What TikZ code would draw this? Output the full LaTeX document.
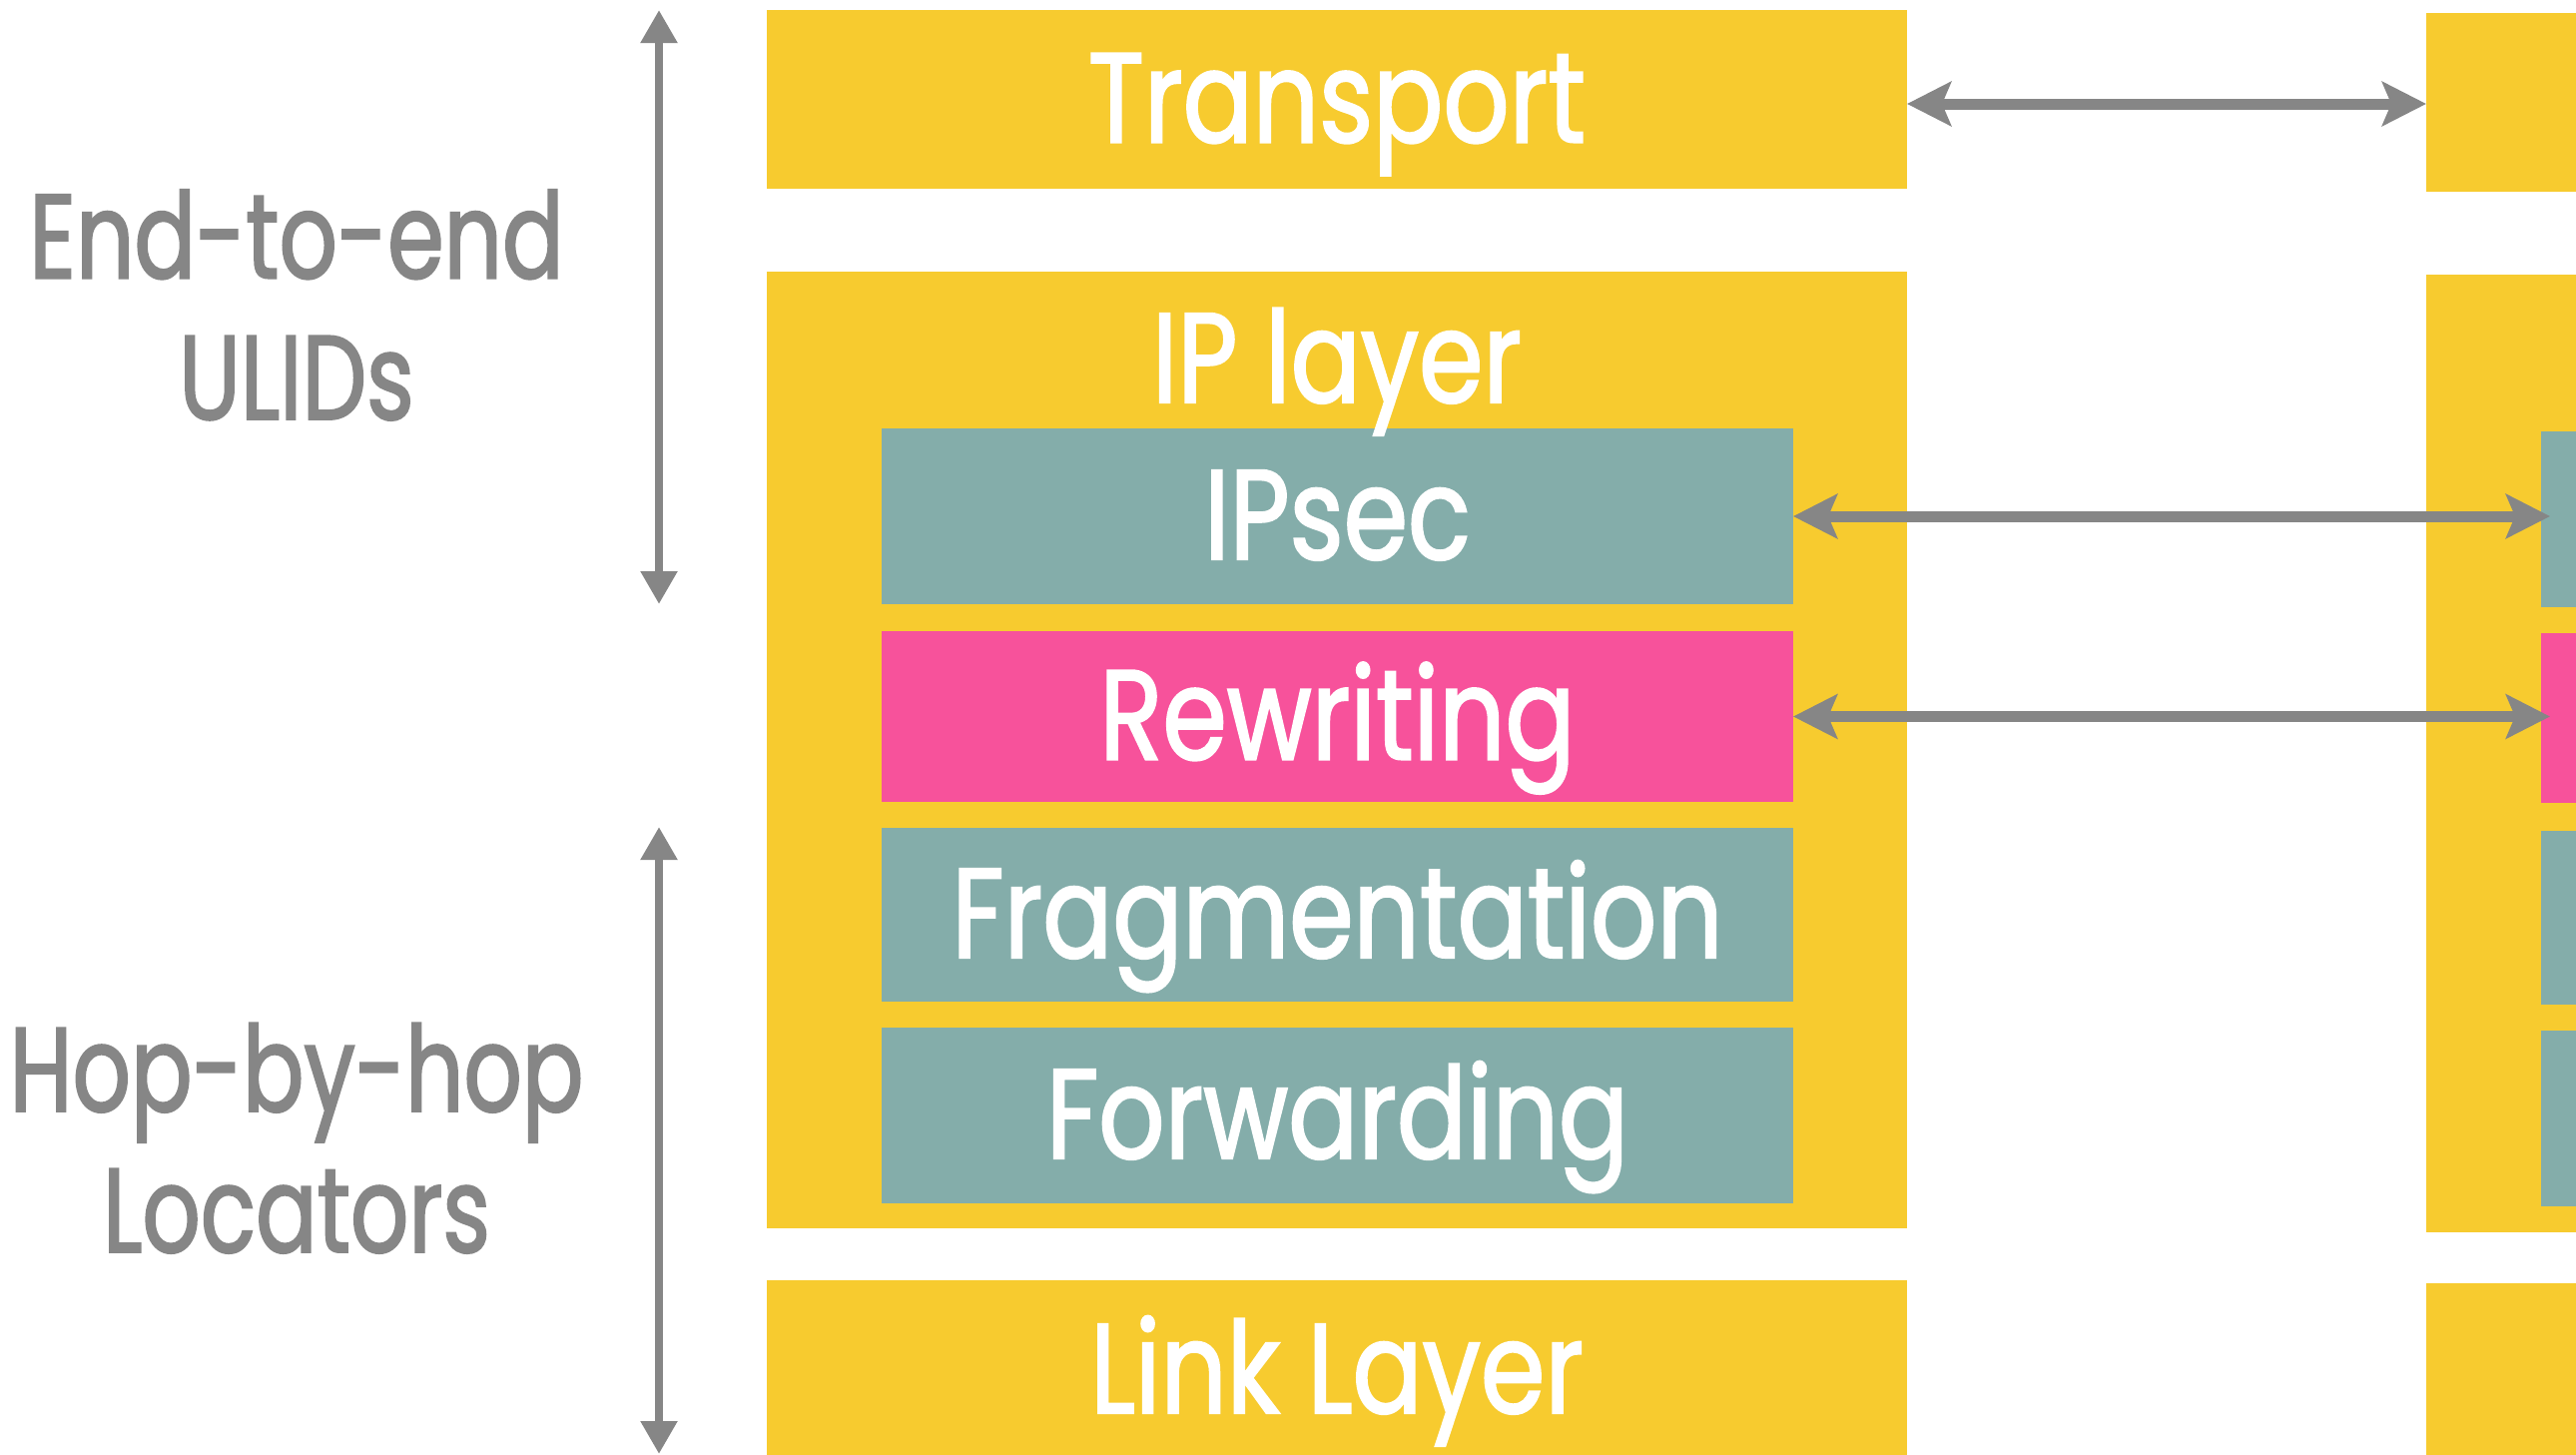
\documentclass[tikz,border=0pt]{standalone}
\usepackage{fontspec}
\setmainfont{Poppins}[FakeStretch=0.81, FakeBold=1.6]
\newfontfamily\sidefont{Poppins}[FakeStretch=0.76, FakeBold=1.6]
\usetikzlibrary{arrows.meta}
\definecolor{cYellow}{HTML}{F7CB2F}
\definecolor{cTeal}{HTML}{84ADAA}
\definecolor{cPink}{HTML}{F7529B}
\definecolor{cGray}{HTML}{868686}
\begin{document}
\begin{tikzpicture}[x=0.5pt,y=-0.5pt,
  boxbase/.style={inner sep=0pt, outer sep=0pt, draw=none, text=white,
    font=\fontsize{64pt}{72pt}\selectfont, text height=43pt, text depth=0pt},
  ybox/.style={boxbase, fill=cYellow, minimum width=571pt, minimum height=89.5pt},
  tbox/.style={boxbase, fill=cTeal, minimum width=456.5pt, minimum height=88pt},
  pbox/.style={boxbase, fill=cPink, minimum width=456.5pt, minimum height=85.5pt},
  lbl/.style={inner sep=0pt, text=white, anchor=base, font=\fontsize{64pt}{72pt}\selectfont},
  side/.style={inner sep=0pt, text=cGray, anchor=base, font=\sidefont\fontsize{60pt}{70pt}\selectfont},
  varrow/.style={draw=cGray, line width=4.35pt,
    {Triangle[length=16.5pt,width=17.5pt]}-{Triangle[length=16.5pt,width=17.5pt]}},
  harrow/.style={draw=cGray, line width=5.5pt,
    {Stealth[length=22pt,width=22pt,inset=4.5pt]}-{Stealth[length=22pt,width=22pt,inset=4.5pt]}}
]
\useasboundingbox (0,0) rectangle (2580,1456);
\clip (0,0) rectangle (2580,1456);
\fill[white] (0,0) rectangle (2580,1456);

% left stack
\node[ybox] (transL) at (1339,99.5) {Transport};
\node[ybox, minimum height=479pt] (ipL) at (1339,751) {};
\node[tbox] (ipsecL) at (1339.5,517) {IPsec};
\node[pbox] (rewL) at (1339.5,717.5) {Rewriting};
\node[tbox, minimum height=87pt] (fragL) at (1339.5,916) {Fragmentation};
\node[tbox] (fwdL) at (1339.5,1117) {Forwarding};
\node[ybox, minimum height=90pt] (linkL) at (1339,1372) {Link Layer};
\node[lbl] (ipLbl) at (1339,403) {IP layer};

% right stack (cut off by the picture edge)
\node[ybox, minimum width=300pt] (transR) at (2730,102.5) {};
\node[ybox, minimum width=300pt, minimum height=479.5pt] (ipR) at (2730,754.5) {};
\node[tbox] (ipsecR) at (3001.5,520) {};
\node[pbox, minimum height=85pt] (rewR) at (3001.5,719) {};
\node[tbox, minimum height=87pt] (fragR) at (3001.5,919) {};
\node[tbox] (fwdR) at (3001.5,1120) {};
\node[ybox, minimum width=300pt, minimum height=90pt] (linkR) at (2730,1375) {};

% horizontal connectors
\coordinate (tA) at ([yshift=-2.25pt]transL.east);
\draw[harrow] (tA) -- (tA -| transR.west);
\draw[harrow, shorten >=-4.5pt] (ipsecL.east) -- (ipsecL.east -| ipsecR.west);
\draw[harrow, shorten >=-4.5pt] (rewL.east) -- (rewL.east -| rewR.west);

% side scales
\coordinate (eTop) at (660,10);
\coordinate (eBot) at (660,605);
\coordinate (hTop) at (660,828);
\coordinate (hBot) at (660,1456);
\draw[varrow] (eTop) -- (eBot);
\draw[varrow] (hTop) -- (hBot);

\node[side] (e2eA) at (297,278.6) {End-to-end};
\node[side] (e2eB) at (297,420) {ULIDs};
\node[side] (hbhA) at (297,1113) {Hop-by-hop};
\node[side] (hbhB) at (297,1254) {Locators};
\end{tikzpicture}
\end{document}
